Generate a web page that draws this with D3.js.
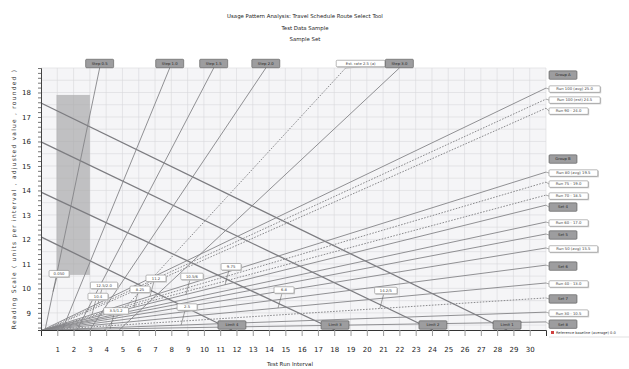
<!DOCTYPE html>
<html>
<head>
<meta charset="utf-8">
<script src="https://cdn.jsdelivr.net/npm/d3@7"></script>
<style>
  body { margin: 0; background: #fff; font-family: "DejaVu Sans", Arial, sans-serif; }
</style>
</head>
<body>
<svg id="chart" width="629" height="369"></svg>
<script>
// ---- DATA ----
var titleLines = ["Usage Pattern Analysis: Travel Schedule Route Select Tool", "Test Data Sample", "Sample Set"];
var xLabel = "Test Run Interval";
var yLabel = "Reading Scale  ( units per interval , adjusted value , rounded )";
var xTicks = [1, 2, 3, 4, 5, 6, 7, 8, 9, 10, 11, 12, 13, 14, 15, 16, 17, 18, 19, 20, 21, 22, 23, 24, 25, 26, 27, 28, 29, 30];
var yTicks = [9, 10, 11, 12, 13, 14, 15, 16, 17, 18];

// rising lines that leave through the top
var topNames = ["Step 0.5", "Step 1.0", "Step 1.5", "Step 2.0", "Est. rate 2.5 (a)", "Step 3.0"];
var topX0 = [0.25, 1.3, 2.2, 3.0, 3.9, 4.8];
var topX1 = [3.6, 7.9, 10.6, 13.8, 18.7, 22.0];
var topKind = ["measured", "measured", "measured", "measured", "estimated", "measured"];

// rising lines that leave through the right edge
var rightNames = ["Run 100 (avg) 25.0", "Run 100 (est) 24.5", "Run 90 - 24.0",
  "Run 80 (avg) 19.5", "Run 75 - 19.0", "Run 70 - 18.5",
  "Set 4", "Run 60 - 17.0", "Set 5", "Run 50 (avg) 15.5",
  "Set 6", "Run 40 - 13.0", "Set 7", "Run 30 - 10.5", "Set 8"];
var rightX0 = [0.1, 0.2, 0.3, 0.1, 0.2, 0.1, 0.1, 0.1, 0.1, 0.1, 0.1, 0.1, 0.1, 0.1, 0.1];
var rightY1 = [18.18, 17.73, 17.36, 14.75, 14.34, 13.81, 13.40, 12.71, 12.22, 11.65, 10.95, 10.22, 9.61, 9.03, 8.63];
var rightKind = ["measured", "estimated", "estimated", "measured", "estimated", "estimated",
  "measured", "measured", "measured", "measured", "measured", "measured", "estimated", "measured", "measured"];
var rightGroup = ["value", "value", "value", "value", "value", "value",
  "key", "value", "key", "value", "key", "value", "key", "value", "key"];
var rightHeaders = ["Group A", "Group B"];
var rightHeaderOf = [0, 3];

// falling lines from the left axis to the base
var fallNames = ["Limit 1", "Limit 2", "Limit 3", "Limit 4"];
var fallY0 = [17.57, 15.98, 13.93, 12.10];
var fallX1 = [28.61, 24.06, 18.05, 11.72];

// shaded band
var bandX = [0.95, 3.0];
var bandY = [10.55, 17.9];

// small notes placed on lines (index into rightNames, -1 = first top line; x along the line)
var noteText = ["0.050", "12.5/2.0", "10.4", "11.2", "8.25", "10.5/6", "9.75", "2.5", "3.5/1.2", "6.8", "14.2/5"];
var noteLine = [-1, 0, 3, 3, 6, 6, 6, 13, 14, 11, 12];
var noteX = [0.74, 3.5, 3.13, 6.69, 5.71, 8.9, 11.3, 8.6, 4.24, 14.55, 20.8];

var legendText = "Reference baseline (average) 0.0";

// ---- CHART ----
var svg = d3.select("#chart");
var x = d3.scaleLinear().domain([0, 31]).range([41, 546]);
var y = d3.scaleLinear().domain([8.3, 19]).range([330, 68]);

// titles
svg.selectAll(".title").data(titleLines).enter().append("text")
  .attr("x", 305).attr("y", function (d, i) { return 18 + i * 11.5; })
  .attr("text-anchor", "middle").attr("font-size", 5.4).attr("fill", "#222")
  .text(function (d) { return d; });

// plot background + grid
svg.append("rect").attr("x", x(0)).attr("y", y(19))
  .attr("width", x(31) - x(0)).attr("height", y(8.3) - y(19)).attr("fill", "#f5f5f7");

var grid = svg.append("g").attr("stroke", "#d8d8dc").attr("stroke-width", 0.6);
grid.selectAll(".gx").data(d3.range(1, 32)).enter().append("line")
  .attr("x1", function (d) { return x(d); }).attr("x2", function (d) { return x(d); })
  .attr("y1", y(19)).attr("y2", y(8.3));
grid.selectAll(".gy").data(d3.range(8.5, 19.01, 0.5)).enter().append("line")
  .attr("y1", function (d) { return y(d); }).attr("y2", function (d) { return y(d); })
  .attr("x1", x(0)).attr("x2", x(31));

// shaded band
svg.append("rect").attr("x", x(bandX[0])).attr("y", y(bandY[1]))
  .attr("width", x(bandX[1]) - x(bandX[0])).attr("height", y(bandY[0]) - y(bandY[1]))
  .attr("fill", "#a9a9ab").attr("opacity", 0.7);

function lineStyle(sel, kind) {
  sel.attr("stroke", kind === "estimated" ? "#8a8a8d" : "#858588")
    .attr("stroke-width", kind === "estimated" ? 1 : 0.9)
    .attr("stroke-dasharray", kind === "estimated" ? "1.6,1.4" : null);
}

var lines = svg.append("g").attr("fill", "none");

// falling lines
fallNames.forEach(function (n, i) {
  lines.append("line").attr("x1", x(0)).attr("y1", y(fallY0[i]))
    .attr("x2", x(fallX1[i])).attr("y2", y(8.3))
    .attr("stroke", "#7c7c80").attr("stroke-width", 1.3);
});

// top lines
topNames.forEach(function (n, i) {
  lines.append("line").attr("x1", x(topX0[i])).attr("y1", y(8.3))
    .attr("x2", x(topX1[i])).attr("y2", y(19)).call(lineStyle, topKind[i]);
});

// right lines
rightNames.forEach(function (n, i) {
  lines.append("line").attr("x1", x(rightX0[i])).attr("y1", y(8.3))
    .attr("x2", x(31)).attr("y2", y(rightY1[i])).call(lineStyle, rightKind[i]);
});

// axes
var xAxis = svg.append("g").attr("transform", "translate(0," + y(8.3) + ")")
  .call(d3.axisBottom(x).tickValues(xTicks).tickSize(6).tickPadding(11).tickFormat(d3.format("d")));
xAxis.select(".domain").attr("stroke", "#333");
xAxis.selectAll(".tick line").attr("stroke", "#999");
xAxis.selectAll("text").attr("font-size", 7).attr("fill", "#222").attr("font-family", "DejaVu Sans");

svg.append("g").attr("transform", "translate(" + x(0) + ",0)")
  .call(d3.axisLeft(y).tickValues(d3.range(8.4, 19.01, 0.2)).tickSize(3).tickFormat(""))
  .call(function (g) { g.selectAll("line").attr("stroke", "#777"); g.select(".domain").attr("stroke", "#444"); });

var yAxis = svg.append("g").attr("transform", "translate(" + x(0) + ",0)")
  .call(d3.axisLeft(y).tickValues(yTicks).tickSize(0).tickPadding(10).tickFormat(d3.format("d")));
yAxis.select(".domain").remove();
yAxis.selectAll("text").attr("font-size", 7).attr("fill", "#222").attr("font-family", "DejaVu Sans");

svg.append("text").attr("x", 290).attr("y", 366).attr("text-anchor", "middle")
  .attr("font-size", 5.5).attr("fill", "#222").text(xLabel);
svg.append("text").attr("transform", "translate(16," + ((y(19) + y(8.3)) / 2) + ") rotate(-90)")
  .attr("text-anchor", "middle").attr("font-size", 6).attr("letter-spacing", 1.2)
  .attr("fill", "#333").text(yLabel);

// label boxes
var labels = svg.append("g").attr("font-family", "DejaVu Sans");
function box(cx, cy, text, dark, align) {
  var w = Math.max(dark ? 28 : 20, text.length * 2.4 + 8), h = dark ? 8.5 : 6.5;
  var left = align === "left" ? cx : cx - w / 2;
  var g = labels.append("g");
  if (!dark) g.append("rect").attr("x", left + 1).attr("y", cy - h / 2 + 1).attr("width", w).attr("height", h).attr("fill", "#c8c8c8");
  g.append("rect").attr("x", left).attr("y", cy - h / 2).attr("width", w).attr("height", h)
    .attr("rx", 1).attr("fill", dark ? "#9d9d9f" : "#fff").attr("stroke", dark ? "#555" : "#8a8a8a").attr("stroke-width", 0.6);
  g.append("text").attr("x", left + w / 2).attr("y", cy + 1.4).attr("text-anchor", "middle")
    .attr("font-size", 3.8).attr("fill", dark ? "#222" : "#444").text(text);
}

// top labels
topNames.forEach(function (n, i) {
  var cx = x(topX1[i]) + (topKind[i] === "estimated" ? 15 : 0);
  labels.append("line").attr("x1", cx).attr("y1", 67).attr("x2", x(topX1[i])).attr("y2", y(19))
    .attr("stroke", "#777").attr("stroke-width", 0.6);
  box(cx, 63.5, n, topKind[i] !== "estimated");
});

// right labels with a simple de-overlap
var ly = rightY1.map(function (v) { return y(v) + 1; });
for (var i = 1; i < ly.length; i++) if (ly[i] - ly[i - 1] < 11) ly[i] = ly[i - 1] + 11;
rightNames.forEach(function (n, i) {
  labels.append("line").attr("x1", x(31)).attr("y1", y(rightY1[i])).attr("x2", 549).attr("y2", ly[i])
    .attr("stroke", "#777").attr("stroke-width", 0.6);
  box(549, ly[i], n, rightGroup[i] === "key", "left");
});
rightHeaders.forEach(function (h, k) {
  box(549, ly[rightHeaderOf[k]] - 14, h, true, "left");
});

// bottom labels on falling lines
fallNames.forEach(function (n, i) {
  box(x(fallX1[i]), 325, n, true);
});

// notes
noteText.forEach(function (t, i) {
  var ax = x(noteX[i]), ay;
  if (noteLine[i] < 0) {
    ay = y(8.3 + (noteX[i] - topX0[0]) * (19 - 8.3) / (topX1[0] - topX0[0]));
  } else {
    var k = noteLine[i];
    ay = y(8.3 + (noteX[i] - rightX0[k]) * (rightY1[k] - 8.3) / (31 - rightX0[k]));
  }
  labels.append("line").attr("x1", ax).attr("y1", ay).attr("x2", ax + 4).attr("y2", ay - 15)
    .attr("stroke", "#666").attr("stroke-width", 0.6);
  box(ax + 6, ay - 18, t, false);
});

// legend entry at lower right
svg.append("rect").attr("x", 551).attr("y", 331).attr("width", 3).attr("height", 3).attr("fill", "#d04040");
svg.append("text").attr("x", 556).attr("y", 334).attr("font-size", 3.6).attr("fill", "#333").text(legendText);
svg.append("line").attr("x1", 549).attr("x2", 629).attr("y1", 337).attr("y2", 337).attr("stroke", "#ccc").attr("stroke-width", 0.6);
</script>
</body>
</html>
